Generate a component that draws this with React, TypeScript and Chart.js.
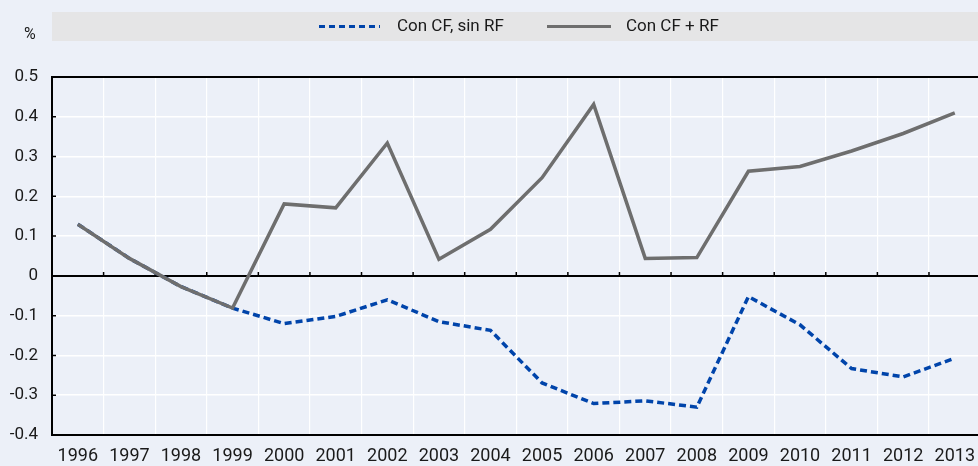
import React, { useEffect, useRef } from "react";
import { Chart, registerables } from "chart.js";

Chart.register(...registerables);

const years = ["1996", "1997", "1998", "1999", "2000", "2001", "2002", "2003", "2004", "2005", "2006", "2007", "2008", "2009", "2010", "2011", "2012", "2013"];
const conCFsinRF = [0.13, 0.044, -0.027, -0.081, -0.12, -0.102, -0.06, -0.115, -0.137, -0.269, -0.321, -0.314, -0.33, -0.052, -0.123, -0.233, -0.254, -0.207];
const conCFmasRF = [0.13, 0.044, -0.027, -0.081, 0.181, 0.171, 0.334, 0.042, 0.117, 0.247, 0.431, 0.044, 0.046, 0.263, 0.275, 0.314, 0.358, 0.41];
const seriesNames = ["Con CF, sin RF", "Con CF + RF"];
const yTicks = { min: -0.4, max: 0.5, step: 0.1 };
const unitLabel = "%";

const FONT = "'Liberation Sans Narrow', 'Arial Narrow', Roboto, sans-serif";
const BLUE = "#0044AA";
const GRAY = "#6E6E6E";
const TEXT = "#1a1a1a";

const decorPlugin = {
  id: "decor",
  beforeDraw(chart: any) {
    const ctx = chart.ctx;
    const area = chart.chartArea;
    ctx.save();
    // legend bar
    ctx.fillStyle = "#E5E5E6";
    ctx.fillRect(area.left, 12, chart.width - area.left, 29);
    const ly = 26.5;
    ctx.lineWidth = 3;
    ctx.strokeStyle = BLUE;
    ctx.setLineDash([6, 4]);
    ctx.beginPath();
    ctx.moveTo(319, ly);
    ctx.lineTo(380, ly);
    ctx.stroke();
    ctx.setLineDash([]);
    ctx.strokeStyle = GRAY;
    ctx.beginPath();
    ctx.moveTo(547, ly);
    ctx.lineTo(611, ly);
    ctx.stroke();
    ctx.fillStyle = TEXT;
    ctx.font = `17px ${FONT}`;
    ctx.textBaseline = "middle";
    ctx.textAlign = "left";
    ctx.fillText(seriesNames[0], 397, 27);
    ctx.fillText(seriesNames[1], 626, 27);
    // unit label
    ctx.font = `16px ${FONT}`;
    ctx.fillText(unitLabel, 24, 35);
    ctx.restore();
  },
  beforeDatasetsDraw(chart: any) {
    const ctx = chart.ctx;
    const area = chart.chartArea;
    const y = chart.scales.y;
    const zeroY = y.getPixelForValue(0);
    const w = (area.right - area.left) / years.length;
    ctx.save();
    ctx.strokeStyle = "#000";
    ctx.lineWidth = 1.5;
    ctx.beginPath();
    for (let i = 1; i < years.length; i++) {
      const x = area.left + i * w;
      ctx.moveTo(x, zeroY);
      ctx.lineTo(x, zeroY - 4);
    }
    for (const t of y.ticks) {
      const py = y.getPixelForValue(t.value);
      ctx.moveTo(area.left, py);
      ctx.lineTo(area.left + 4, py);
    }
    ctx.stroke();
    ctx.restore();
  },
};

export default function App() {
  const ref = useRef<HTMLCanvasElement | null>(null);
  useEffect(() => {
    if (!ref.current) return;
    const chart = new Chart(ref.current, {
      type: "line",
      data: {
        labels: years,
        datasets: [
          {
            label: seriesNames[0],
            data: conCFsinRF,
            borderColor: BLUE,
            borderWidth: 3.5,
            borderDash: [7, 4],
            pointRadius: 0,
            tension: 0,
            order: 1,
          },
          {
            label: seriesNames[1],
            data: conCFmasRF,
            borderColor: GRAY,
            borderWidth: 3.5,
            pointRadius: 0,
            tension: 0,
            order: 0,
          },
        ],
      },
      options: {
        animation: false,
        responsive: true,
        maintainAspectRatio: false,
        layout: { padding: { top: 77, left: 0, right: 0, bottom: 0 } },
        plugins: { legend: { display: false }, tooltip: { enabled: false } },
        scales: {
          x: {
            offset: true,
            grid: { offset: true, color: "#FFFFFF", lineWidth: 1.2, drawTicks: false },
            border: { color: "#000", width: 2 },
            ticks: { color: TEXT, font: { family: FONT, size: 18 }, padding: 11, maxRotation: 0, autoSkip: false },
            afterFit(scale: any) {
              scale.height = 31;
            },
          },
          y: {
            min: yTicks.min,
            max: yTicks.max,
            grid: {
              drawTicks: false,
              color: (c: any) => {
                const v = c.tick ? c.tick.value : 1;
                if (Math.abs(v) < 1e-9 || v > 0.49) return "#000";
                return "#FFFFFF";
              },
              lineWidth: (c: any) => {
                const v = c.tick ? c.tick.value : 1;
                if (Math.abs(v) < 1e-9 || v > 0.49) return 2;
                return 1.5;
              },
            },
            border: { color: "#000", width: 2 },
            ticks: {
              stepSize: yTicks.step,
              color: TEXT,
              font: { family: FONT, size: 17 },
              padding: 14,
              callback: (v: any) => String(Number(Number(v).toFixed(1))),
            },
            afterFit(scale: any) {
              scale.width = 52;
            },
          },
        },
      },
      plugins: [decorPlugin],
    });
    return () => chart.destroy();
  }, []);
  return (
    <div style={{ position: "fixed", left: 0, top: 0, width: 978, height: 466, overflow: "hidden", background: "#ECF0F8" }}>
      <div style={{ position: "absolute", left: 0, top: 0, width: 986, height: 466 }}>
        <canvas ref={ref} />
      </div>
    </div>
  );
}
